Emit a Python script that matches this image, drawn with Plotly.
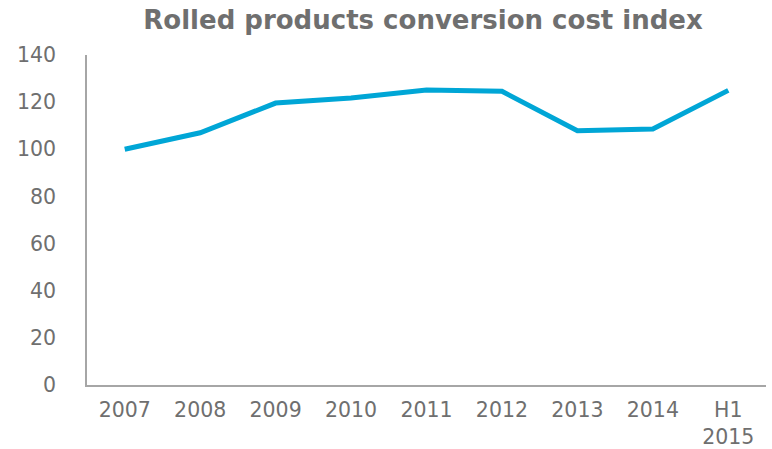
import plotly.graph_objects as go

# Rolled products conversion cost index (2007 = 100)
categories = ["2007", "2008", "2009", "2010", "2011", "2012", "2013", "2014", "H1<br>2015"]
index_values = [100, 107, 119.6, 121.8, 125.2, 124.6, 107.9, 108.6, 125.0]
y_ticks = [0, 20, 40, 60, 80, 100, 120, 140]

TEXT_GRAY = "#6f6f6f"
AXIS_GRAY = "#a6a6a6"
LINE_BLUE = "#00a6d6"
FONT = "DejaVu Sans, Verdana, sans-serif"

fig = go.Figure()
fig.add_trace(go.Scatter(
    x=categories,
    y=index_values,
    mode="lines",
    line=dict(color=LINE_BLUE, width=5),
    hoverinfo="x+y",
))

fig.update_layout(
    width=772,
    height=449,
    margin=dict(l=87, r=6, t=55, b=64),
    paper_bgcolor="white",
    plot_bgcolor="white",
    showlegend=False,
    font=dict(family=FONT, size=20, color=TEXT_GRAY),
    title=dict(
        text="<b>Rolled products conversion cost index</b>",
        x=0.548,
        xanchor="center",
        y=0.955,
        yanchor="middle",
        font=dict(family=FONT, size=26, color=TEXT_GRAY),
    ),
)

fig.update_xaxes(
    type="category",
    range=[-0.5, len(categories) - 0.5],
    automargin=False,
    showline=True,
    linecolor=AXIS_GRAY,
    linewidth=1.5,
    showgrid=False,
    zeroline=False,
    ticks="",
    ticklabelstandoff=6,
    tickfont=dict(family=FONT, size=20.5, color=TEXT_GRAY),
)

fig.update_yaxes(
    range=[0, 140],
    tickvals=y_ticks,
    automargin=False,
    showline=True,
    linecolor=AXIS_GRAY,
    linewidth=1.5,
    showgrid=False,
    zeroline=False,
    ticks="",
    ticklabelstandoff=25,
    tickfont=dict(family=FONT, size=20.5, color=TEXT_GRAY),
)

fig.write_html("out.html")
